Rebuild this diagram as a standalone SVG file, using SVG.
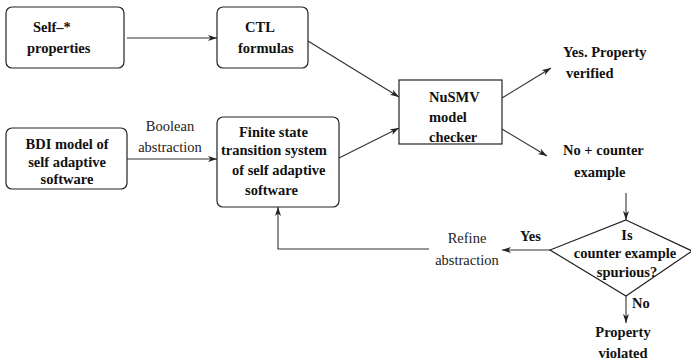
<svg xmlns="http://www.w3.org/2000/svg" width="691" height="362" viewBox="0 0 691 362">
<defs>
<marker id="ah" markerWidth="10" markerHeight="8" refX="9" refY="3" orient="auto" markerUnits="userSpaceOnUse">
<path d="M0,0 L9,3 L0,6 L2.5,3 Z" fill="#222"/>
</marker>
<style>
.box{fill:#fff;stroke:#222;stroke-width:1.2}
.b{font-family:"Liberation Serif","Times New Roman",serif;font-weight:bold;font-size:14.5px;fill:#111}
.r{font-family:"Liberation Serif","Times New Roman",serif;font-size:14.5px;fill:#222}
.c{text-anchor:middle}
.ln{fill:none;stroke:#333;stroke-width:1.1;marker-end:url(#ah)}
</style>
</defs>
<rect width="691" height="362" fill="#fff"/>
<g id="connectors">
<line class="ln" x1="127" y1="38" x2="217" y2="38"/>
<line class="ln" x1="308" y1="41" x2="399" y2="97"/>
<line class="ln" x1="339" y1="158" x2="399" y2="128"/>
<line class="ln" x1="127" y1="159" x2="217" y2="159"/>
<line class="ln" x1="502" y1="98" x2="551" y2="68"/>
<line class="ln" x1="502" y1="129" x2="547" y2="156"/>
<line class="ln" x1="626" y1="193" x2="626" y2="220"/>
<line class="ln" x1="550" y1="250" x2="502" y2="250"/>
<polyline class="ln" points="429,249 278,249 278,207"/>
<line class="ln" x1="626" y1="296" x2="626" y2="323"/>
</g>
<g id="self">
<rect class="box" x="6" y="7" width="118" height="61" rx="6"/>
<text class="b" x="33" y="32">Self–*</text>
<text class="b" x="27" y="53">properties</text>
</g>
<g id="ctl">
<rect class="box" x="217" y="7" width="91" height="61" rx="6"/>
<text class="b" x="245" y="32">CTL</text>
<text class="b" x="238" y="53">formulas</text>
</g>
<g id="bdi">
<rect class="box" x="6" y="128" width="121" height="61" rx="6"/>
<text class="b c" x="67" y="149">BDI model of</text>
<text class="b c" x="67" y="166.5">self adaptive</text>
<text class="b c" x="67" y="184">software</text>
</g>
<g id="boolean-label">
<text class="r c" x="170" y="131">Boolean</text>
<text class="r c" x="170" y="152">abstraction</text>
</g>
<g id="fsm">
<rect class="box" x="217" y="117" width="122" height="90" rx="6"/>
<text class="b" x="239" y="137">Finite state</text>
<text class="b" x="221" y="155">transition system</text>
<text class="b" x="232" y="175">of self adaptive</text>
<text class="b" x="245" y="195">software</text>
</g>
<g id="nusmv">
<rect class="box" x="399" y="80" width="103" height="64"/>
<text class="b" x="429" y="102">NuSMV</text>
<text class="b" x="429" y="122">model</text>
<text class="b" x="429" y="142">checker</text>
</g>
<g id="yes-verified">
<text class="b" x="563" y="57">Yes. Property</text>
<text class="b" x="566" y="78">verified</text>
</g>
<g id="no-counter">
<text class="b" x="563" y="155">No + counter</text>
<text class="b" x="574" y="177">example</text>
</g>
<g id="decision">
<polygon class="box" points="626,220 692,251 626,296 550,250"/>
<text class="b c" x="627" y="240">Is</text>
<text class="b c" x="625" y="258">counter example</text>
<text class="b c" x="627" y="277">spurious?</text>
</g>
<g id="yes-label">
<text class="b" x="520" y="241">Yes</text>
</g>
<g id="refine">
<text class="r c" x="467" y="243">Refine</text>
<text class="r c" x="467" y="265">abstraction</text>
</g>
<g id="no-label">
<text class="b" x="632" y="308">No</text>
</g>
<g id="violated">
<text class="b c" x="623" y="337">Property</text>
<text class="b c" x="623" y="358">violated</text>
</g>
</svg>
